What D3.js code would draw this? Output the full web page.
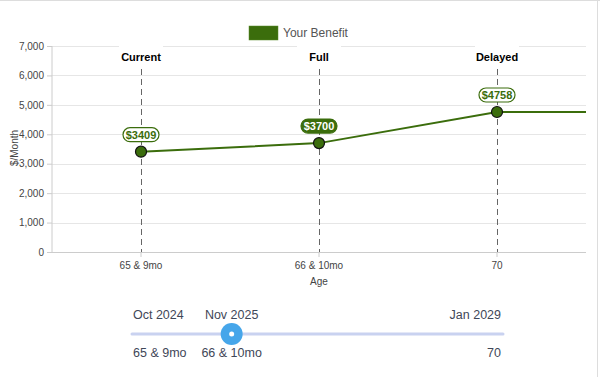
<!DOCTYPE html>
<html><head><meta charset="utf-8">
<script src="https://cdn.jsdelivr.net/npm/d3@7"></script>
<style>
body{margin:0;background:#fff;}
svg{display:block;font-family:"Liberation Sans",Arial,sans-serif;}
</style></head>
<body><svg id="c" width="600" height="377"></svg>
<script>
const categories = ["65 & 9mo", "66 & 10mo", "70"];
const titles = ["Current", "Full", "Delayed"];
const benefit = [3409, 3700, 4758];
const yTicks = [0, 1000, 2000, 3000, 4000, 5000, 6000, 7000];
const sliderDates = ["Oct 2024", "Nov 2025", "Jan 2029"];
const sliderAges = ["65 & 9mo", "66 & 10mo", "70"];
const sliderMonths = [0, 13.7, 51];   // approx. months from Oct 2024, read from handle position
const selectedIndex = 1;

const svg = d3.select("#c");
const green = "#3b6d0c";
const m = {l:52, r:586, t:46, b:252};

// frame
svg.append("line").attr("x1",0).attr("x2",600).attr("y1",0.5).attr("y2",0.5).attr("stroke","#ddd");
svg.append("line").attr("x1",597.5).attr("x2",597.5).attr("y1",0).attr("y2",377).attr("stroke","#ddd");

const x = d3.scaleBand().domain(categories).range([m.l, m.r]);
const cx = d => x(d) + x.bandwidth()/2;
const y = d3.scaleLinear().domain([0, 7000]).range([m.b, m.t]);

// grid
svg.append("g").selectAll("line").data(yTicks).join("line")
  .attr("x1", m.l).attr("x2", m.r)
  .attr("y1", d => Math.round(y(d))+0.5).attr("y2", d => Math.round(y(d))+0.5)
  .attr("stroke", d => d===0 ? "#ccc" : "#e6e6e6");

// y axis
const ya = svg.append("g").attr("transform", `translate(${m.l},0)`)
  .call(d3.axisLeft(y).tickValues(yTicks).tickFormat(d3.format(",")).tickSize(5).tickPadding(3));
ya.select(".domain").attr("stroke","#ccc").attr("d", `M0,${m.t}V${m.b}`);
ya.selectAll(".tick line").attr("stroke","#ccc");
ya.selectAll("text").attr("fill","#444").attr("font-size",10).attr("font-family","Liberation Sans, Arial");

// x axis
const xa = svg.append("g").attr("transform", `translate(0,${m.b})`)
  .call(d3.axisBottom(x).tickSize(5).tickPadding(5));
xa.select(".domain").remove();
xa.selectAll(".tick line").attr("stroke","#ccc");
xa.selectAll("text").attr("fill","#444").attr("font-size",10).attr("font-family","Liberation Sans, Arial");

svg.append("text").attr("x", (m.l+m.r)/2 ).attr("y", 285).attr("text-anchor","middle")
  .attr("font-size",10).attr("fill","#444").text("Age");
svg.append("text").attr("transform","translate(18,148) rotate(-90)").attr("text-anchor","middle")
  .attr("font-size",10).attr("fill","#444").text("$/Month");

// vertical dashed markers
svg.append("g").selectAll("line").data(categories).join("line")
  .attr("x1", d => Math.round(cx(d))+0.5).attr("x2", d => Math.round(cx(d))+0.5)
  .attr("y1", 69).attr("y2", m.b)
  .attr("stroke","#666").attr("stroke-dasharray","6,4");

// titles with white backing
const tg = svg.append("g").selectAll("g").data(titles).join("g")
  .attr("transform", (d,i) => `translate(${cx(categories[i])},57)`);
tg.append("rect").attr("x",-22).attr("y",-14).attr("width",44).attr("height",22).attr("fill","#fff");
tg.append("text").attr("text-anchor","middle").attr("dy","0.35em").attr("font-size",11)
  .attr("font-weight","bold").attr("fill","#000").text(d => d);

// line
const pts = categories.map((c,i) => [cx(c), y(benefit[i])]);
pts.push([m.r, y(benefit[benefit.length-1])]);
svg.append("path").attr("d", d3.line()(pts)).attr("fill","none").attr("stroke",green).attr("stroke-width",2);

// points
svg.append("g").selectAll("circle").data(benefit).join("circle")
  .attr("cx", (d,i) => cx(categories[i])).attr("cy", d => y(d)).attr("r",5.5)
  .attr("fill",green).attr("stroke","#111").attr("stroke-width",1.2);

// value labels
const lg = svg.append("g").selectAll("g").data(benefit).join("g")
  .attr("transform", (d,i) => `translate(${cx(categories[i])},${y(d)-17})`);
lg.append("rect").attr("x",-18).attr("y",-7).attr("width",36).attr("height",14).attr("rx",7)
  .attr("fill", (d,i) => i===selectedIndex ? green : "#fff")
  .attr("stroke", green).attr("stroke-width",1.2);
lg.append("text").attr("text-anchor","middle").attr("dy","0.36em").attr("font-size",11).attr("font-weight","bold")
  .attr("fill", (d,i) => i===selectedIndex ? "#fff" : green).text(d => "$" + d);

// legend
svg.append("rect").attr("x",249).attr("y",26).attr("width",29).attr("height",14).attr("fill",green).attr("stroke","#5a8a2a").attr("stroke-width",0.5);
svg.append("text").attr("x",283).attr("y",33).attr("dy","0.35em").attr("font-size",12).attr("fill","#555").text("Your Benefit");

// slider
const s = d3.scaleLinear().domain([0, sliderMonths[sliderMonths.length-1]]).range([132, 503]);
svg.append("line").attr("x1", s.range()[0]).attr("x2", s.range()[1]).attr("y1",334).attr("y2",334)
  .attr("stroke","#c9d2f0").attr("stroke-width",3).attr("stroke-linecap","round");
const anchors = ["start","middle","end"];
const sx = (i) => i===0 ? s(sliderMonths[0])+1 : i===sliderMonths.length-1 ? s(sliderMonths[i])-2 : s(sliderMonths[i]);
svg.append("g").selectAll("text").data(sliderDates).join("text")
  .attr("x",(d,i)=>sx(i)).attr("y",319).attr("text-anchor",(d,i)=>anchors[i])
  .attr("font-size",12.5).attr("fill","#3f4758").text(d=>d);
svg.append("g").selectAll("text").data(sliderAges).join("text")
  .attr("x",(d,i)=>sx(i)).attr("y",357).attr("text-anchor",(d,i)=>anchors[i])
  .attr("font-size",12.5).attr("fill","#3f4758").text(d=>d);
const hx = s(sliderMonths[selectedIndex]);
svg.append("circle").attr("cx",hx).attr("cy",334).attr("r",11).attr("fill","#46a6ea");
svg.append("circle").attr("cx",hx).attr("cy",334).attr("r",2.5).attr("fill","#fff");
</script></body></html>
